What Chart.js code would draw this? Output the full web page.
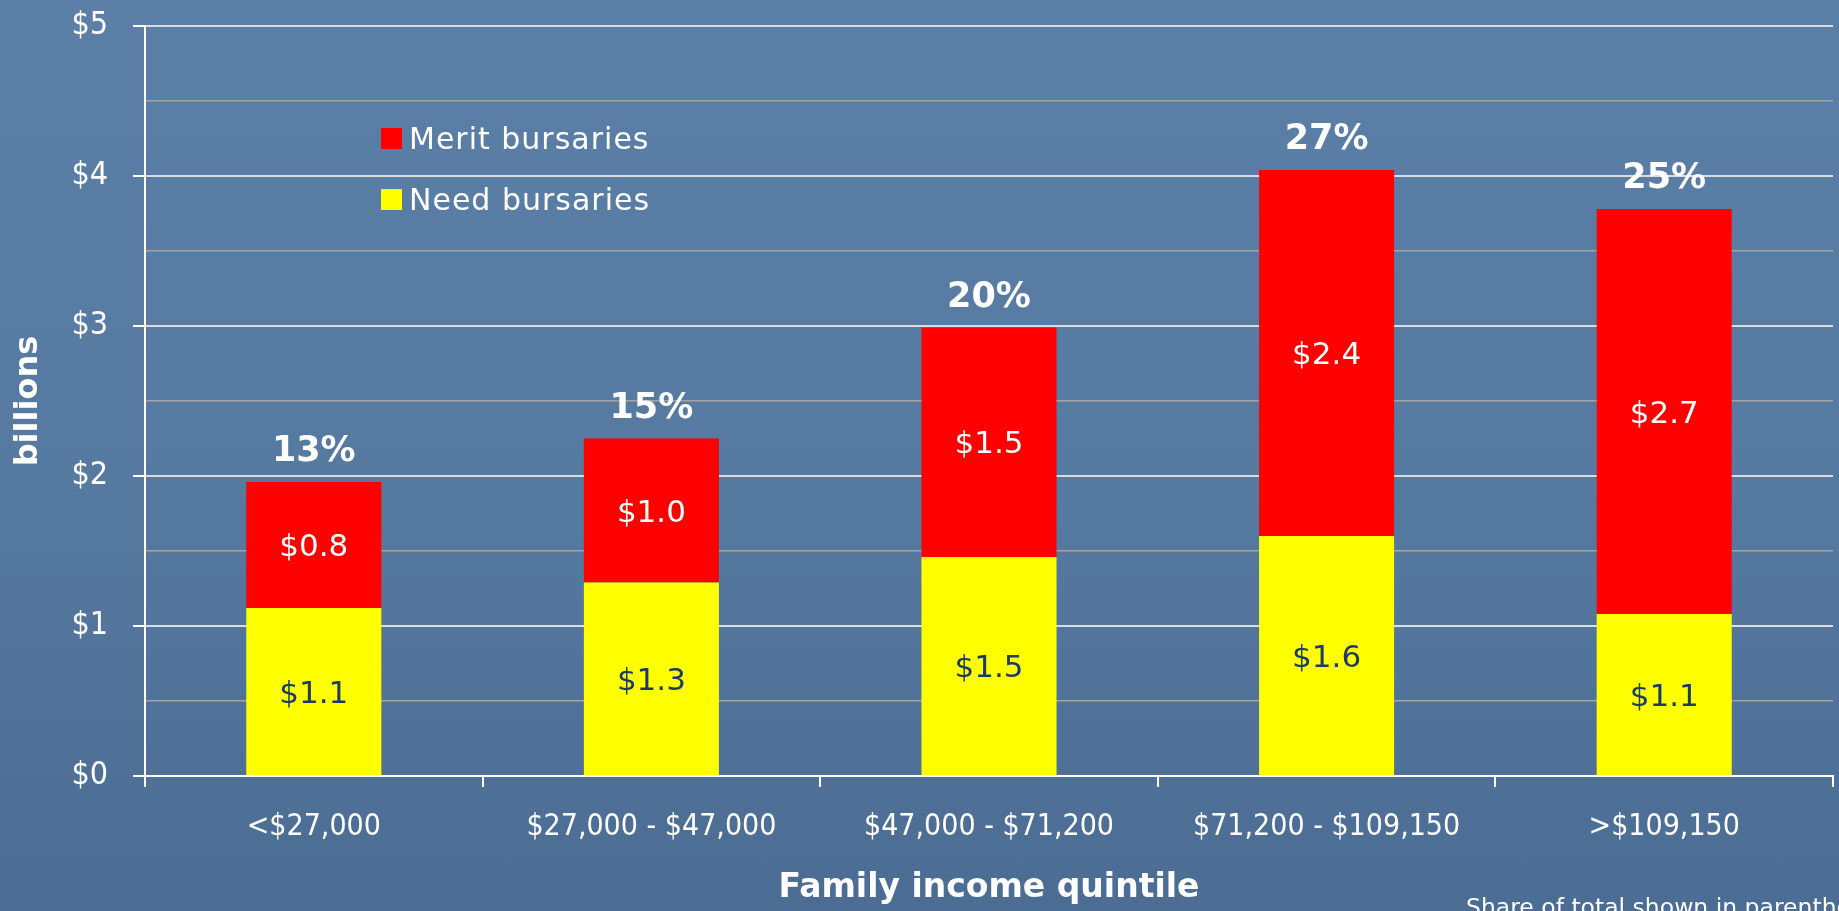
<!DOCTYPE html>
<html>
<head>
<meta charset="utf-8">
<title>Bursaries by family income quintile</title>
<script src="https://cdn.jsdelivr.net/npm/chart.js@4.4.1/dist/chart.umd.min.js"></script>
<style>
    html, body {
        margin: 0;
        padding: 0;
        width: 1839px;
        height: 911px;
        overflow: hidden;
    }
    body {
        position: relative;
        background: linear-gradient(to bottom, #5b7fa7 0%, #5679a0 55%, #4b6c93 100%);
        font-family: 'DejaVu Sans', sans-serif;
        color: #fff;
    }
    #chart {
        position: absolute;
        left: 0;
        top: 0;
    }
    #legend {
        position: absolute;
        left: 381px;
        top: 108px;
    }
    .legend-item {
        display: flex;
        align-items: center;
        height: 61px;
        font-size: 30px;
        letter-spacing: 1px;
        white-space: nowrap;
    }
    .legend-swatch {
        width: 21px;
        height: 21px;
        margin-right: 7px;
    }
    #note {
        position: absolute;
        left: 1466px;
        top: 896px;
        font-size: 23.5px;
        line-height: 1;
        white-space: nowrap;
    }
</style>
</head>
<body>
<canvas id="chart" width="1839" height="911"></canvas>
<div id="legend"></div>
<div id="note">Share of total shown in parentheses</div>

<script>
// Chart data
const categories = ['<$27,000', '$27,000 - $47,000', '$47,000 - $71,200', '$71,200 - $109,150', '>$109,150'];
const needBursaries = [1.12, 1.29, 1.46, 1.60, 1.08];
const meritBursaries = [0.84, 0.96, 1.53, 2.44, 2.70];
const shareOfTotal = [13, 15, 20, 27, 25];

const NEED_COLOR = '#ffff00';
const MERIT_COLOR = '#ff0000';

Chart.defaults.font.family = "'DejaVu Sans Condensed', 'DejaVu Sans', sans-serif";
Chart.defaults.color = '#ffffff';

// Draws the $ values inside the segments and the share % above each stack
const barLabels = {
    id: 'barLabels',
    afterDatasetsDraw(chart) {
        const ctx = chart.ctx;
        ctx.save();
        ctx.textAlign = 'center';
        ctx.textBaseline = 'middle';
        ctx.font = "31px 'DejaVu Sans'";
        chart.data.datasets.forEach((ds, di) => {
            const meta = chart.getDatasetMeta(di);
            meta.data.forEach((bar, i) => {
                ctx.fillStyle = ds.labelColor;
                ctx.fillText('$' + ds.data[i].toFixed(1), bar.x, (bar.y + bar.base) / 2 + 3);
            });
        });

        const topMeta = chart.getDatasetMeta(chart.data.datasets.length - 1);
        ctx.font = "bold 35px 'DejaVu Sans'";
        ctx.fillStyle = '#ffffff';
        ctx.textBaseline = 'alphabetic';
        topMeta.data.forEach((bar, i) => {
            ctx.fillText(shareOfTotal[i] + '%', bar.x, bar.y - 21);
        });
        ctx.restore();
    }
};

function buildLegend(chart) {
    const legend = document.getElementById('legend');
    const items = chart.data.datasets.slice().reverse();
    legend.innerHTML = items.map(ds =>
        `<div class="legend-item"><span class="legend-swatch" style="background:${ds.backgroundColor}"></span>${ds.label}</div>`
    ).join('');
}

const chart = new Chart(document.getElementById('chart'), {
    type: 'bar',
    data: {
        labels: categories,
        datasets: [
            {
                label: 'Need bursaries',
                data: needBursaries,
                backgroundColor: NEED_COLOR,
                labelColor: '#1c3b66',
                categoryPercentage: 1,
                barPercentage: 0.4
            },
            {
                label: 'Merit bursaries',
                data: meritBursaries,
                backgroundColor: MERIT_COLOR,
                labelColor: '#ffffff',
                categoryPercentage: 1,
                barPercentage: 0.4
            }
        ]
    },
    options: {
        responsive: false,
        animation: false,
        layout: {
            padding: { left: 0, right: 6, top: 26, bottom: 0 }
        },
        plugins: {
            legend: { display: false },
            tooltip: { enabled: false }
        },
        scales: {
            x: {
                stacked: true,
                afterFit: scale => {
                    scale.height = 135;
                    scale.paddingLeft = 0;
                    scale.paddingRight = 0;
                },
                border: { color: '#ffffff', width: 2 },
                grid: {
                    drawOnChartArea: false,
                    drawTicks: true,
                    tickLength: 11,
                    color: '#ffffff',
                    lineWidth: 2
                },
                ticks: {
                    padding: 22,
                    font: { size: 30 },
                    color: '#ffffff',
                    maxRotation: 0,
                    autoSkip: false
                },
                title: {
                    display: true,
                    text: 'Family income quintile',
                    color: '#ffffff',
                    font: { family: "'DejaVu Sans'", size: 33, weight: 'bold' },
                    padding: { top: 0, bottom: 3 }
                }
            },
            y: {
                stacked: true,
                min: 0,
                max: 5,
                afterFit: scale => {
                    scale.width = 145;
                    scale.paddingTop = 0;
                    scale.paddingBottom = 0;
                },
                border: { color: '#ffffff', width: 2 },
                grid: {
                    color: ctx => Number.isInteger(ctx.tick.value) ? '#dcdcdc' : '#a4a4a4',
                    lineWidth: ctx => Number.isInteger(ctx.tick.value) ? 2 : 1.5,
                    tickColor: ctx => Number.isInteger(ctx.tick.value) ? '#ffffff' : 'rgba(0,0,0,0)',
                    tickLength: 12
                },
                ticks: {
                    stepSize: 0.5,
                    padding: 25,
                    font: { size: 32 },
                    color: '#ffffff',
                    callback: v => Number.isInteger(v) ? '$' + v : ''
                },
                title: {
                    display: true,
                    text: 'billions',
                    color: '#ffffff',
                    font: { family: "'DejaVu Sans'", size: 32, weight: 'bold' },
                    padding: { top: 9, bottom: 0 }
                }
            }
        }
    },
    plugins: [barLabels]
});

buildLegend(chart);
</script>
</body>
</html>
